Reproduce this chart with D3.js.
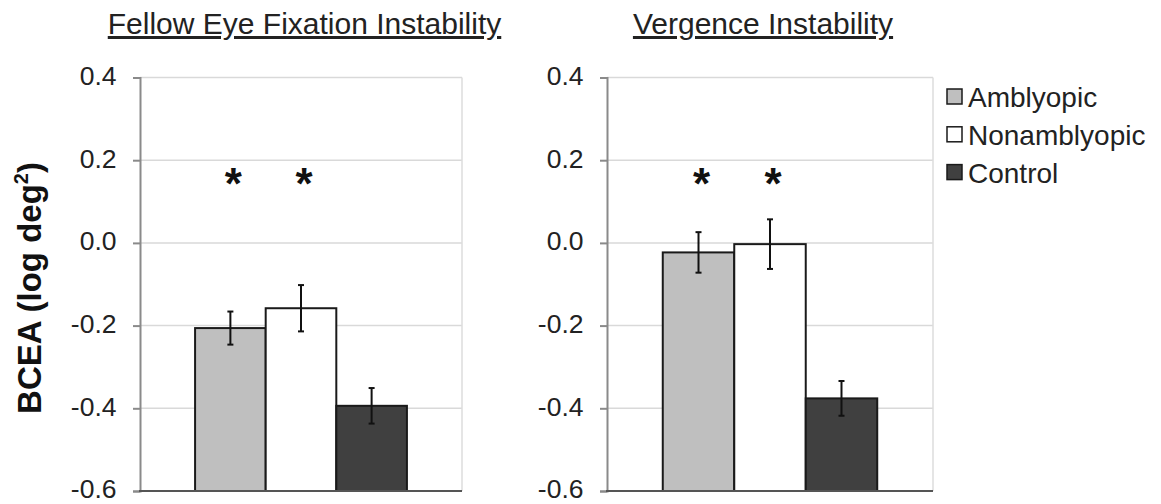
<!DOCTYPE html>
<html>
<head>
<meta charset="utf-8">
<script src="https://cdn.jsdelivr.net/npm/d3@7"></script>
<style>
  html, body { margin: 0; padding: 0; background: #fff; }
  svg { display: block; font-family: "Liberation Sans", Arial, sans-serif; }
</style>
</head>
<body>
<svg id="chart" width="1161" height="504"></svg>
<script>
// ---- data ----
const categories = ["Amblyopic", "Nonamblyopic", "Control"];
const panelTitles = ["Fellow Eye Fixation Instability", "Vergence Instability"];
const fellowMeans = [-0.206, -0.158, -0.394];
const fellowErrors = [0.040, 0.056, 0.043];
const vergenceMeans = [-0.023, -0.003, -0.376];
const vergenceErrors = [0.049, 0.060, 0.042];
const fellowSignificant = [true, true, false];
const vergenceSignificant = [true, true, false];
const yTicks = [0.4, 0.2, 0.0, -0.2, -0.4, -0.6];
const yLabel = "BCEA (log deg";
const yLabelSup = "2";

const seriesFill = ["#bfbfbf", "#ffffff", "#404040"];

const panels = [
  { title: panelTitles[0], means: fellowMeans, errors: fellowErrors, sig: fellowSignificant, left: 140, right: 462, titleShift: 3.5 },
  { title: panelTitles[1], means: vergenceMeans, errors: vergenceErrors, sig: vergenceSignificant, left: 607, right: 933, titleShift: -7 }
];

const svg = d3.select("#chart");
const y = d3.scaleLinear().domain([-0.6, 0.4]).range([491, 77.5]);

panels.forEach(p => {
  const g = svg.append("g");
  const x = d3.scaleBand().domain(categories).range([p.left, p.right]).paddingInner(0).paddingOuter(0.78);

  // gridlines
  g.append("g").selectAll("line").data(yTicks.filter(t => t > -0.6)).join("line")
    .attr("x1", p.left).attr("x2", p.right)
    .attr("y1", d => y(d)).attr("y2", d => y(d))
    .attr("stroke", "#d9d9d9").attr("stroke-width", 1.5);
  // right border
  g.append("line").attr("x1", p.right).attr("x2", p.right)
    .attr("y1", y(0.4)).attr("y2", y(-0.6))
    .attr("stroke", "#dcdcdc").attr("stroke-width", 1.5);

  // bars
  g.append("g").selectAll("rect").data(categories).join("rect")
    .attr("x", d => x(d))
    .attr("width", x.bandwidth())
    .attr("y", (d, i) => y(p.means[i]))
    .attr("height", (d, i) => y(-0.6) - y(p.means[i]))
    .attr("fill", (d, i) => seriesFill[i])
    .attr("stroke", "#1a1a1a").attr("stroke-width", 2);

  // error bars
  const eb = g.append("g").attr("stroke", "#111").attr("stroke-width", 2);
  categories.forEach((c, i) => {
    const cx = x(c) + x.bandwidth() / 2;
    const yt = y(p.means[i] + p.errors[i]);
    const yb = y(p.means[i] - p.errors[i]);
    eb.append("line").attr("x1", cx).attr("x2", cx).attr("y1", yt).attr("y2", yb);
    eb.append("line").attr("x1", cx - 3).attr("x2", cx + 3).attr("y1", yt).attr("y2", yt);
    eb.append("line").attr("x1", cx - 3).attr("x2", cx + 3).attr("y1", yb).attr("y2", yb);
  });

  // asterisks
  g.append("g").selectAll("text").data(categories.filter((c, i) => p.sig[i])).join("text")
    .attr("x", d => x(d) + x.bandwidth() / 2 + 3)
    .attr("y", y(0.158) + 21)
    .attr("text-anchor", "middle")
    .attr("font-size", 44).attr("font-weight", "bold").attr("fill", "#111")
    .text("*");

  // y axis
  const axis = d3.axisLeft(y).tickValues(yTicks).tickFormat(d => d.toFixed(1)).tickSize(7).tickPadding(16.5);
  const ag = g.append("g").attr("transform", `translate(${p.left},0)`).call(axis);
  ag.select(".domain").attr("stroke", "#8a8a8a").attr("stroke-width", 2);
  ag.selectAll(".tick line").attr("stroke", "#8a8a8a").attr("stroke-width", 2);
  ag.selectAll(".tick text").attr("font-size", 26.5).attr("fill", "#222").attr("dy", "0.26em")
    .attr("font-family", "'Liberation Sans', Arial, sans-serif");

  // x axis baseline
  g.append("line").attr("x1", p.left - 1).attr("x2", p.right)
    .attr("y1", y(-0.6)).attr("y2", y(-0.6))
    .attr("stroke", "#555").attr("stroke-width", 2);

  // title
  g.append("text")
    .attr("x", (p.left + p.right) / 2 + p.titleShift)
    .attr("y", 34)
    .attr("text-anchor", "middle")
    .attr("font-size", 30).attr("fill", "#222")
    .style("text-decoration", "underline")
    .text(p.title);
});

// y label
const yl = svg.append("text")
  .attr("transform", "translate(40.5,288) rotate(-90)")
  .attr("text-anchor", "middle")
  .attr("font-size", 33).attr("font-weight", "bold").attr("fill", "#111");
yl.append("tspan").text(yLabel);
yl.append("tspan").attr("font-size", 20).attr("dy", -13).text(yLabelSup);
yl.append("tspan").attr("dy", 13).text(")");

// legend
const lg = svg.append("g");
categories.forEach((c, i) => {
  const cy = 97 + i * 37.8;
  lg.append("rect").attr("x", 947).attr("y", cy - 8).attr("width", 15).attr("height", 15)
    .attr("fill", seriesFill[i]).attr("stroke", "#1a1a1a").attr("stroke-width", 1.5);
  lg.append("text").attr("x", 968).attr("y", cy + 10)
    .attr("font-size", 28).attr("fill", "#222").text(c);
});
</script>
</body>
</html>
